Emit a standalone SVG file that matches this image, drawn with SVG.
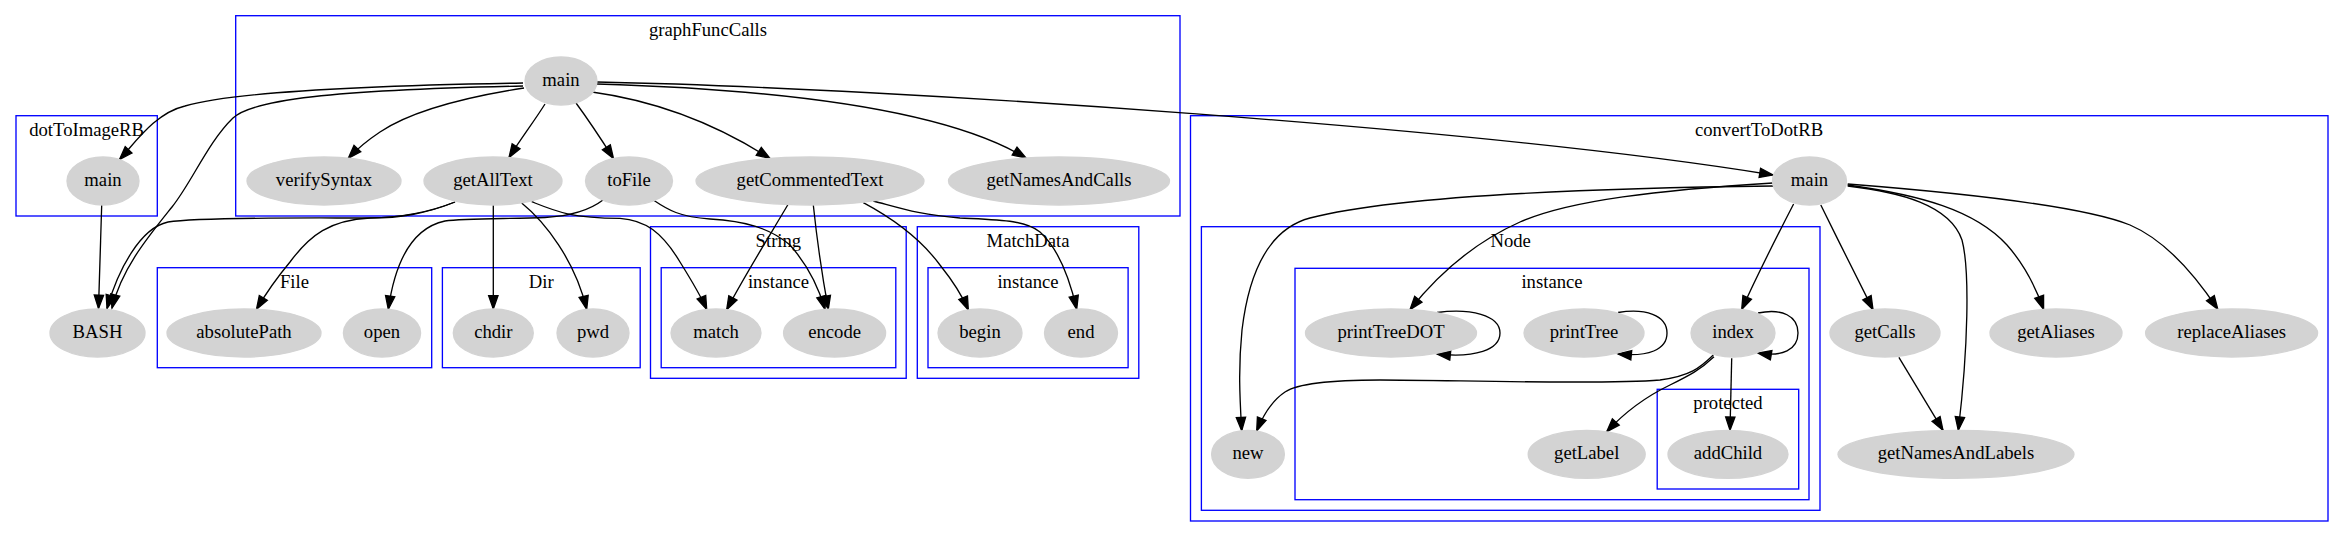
<svg xmlns="http://www.w3.org/2000/svg" width="2344" height="537" viewBox="0 0 2344 537">
<style>
.cl{fill:none;stroke:#0000ff;stroke-width:1.33}
.nd{fill:#d3d3d3;stroke:#d3d3d3;stroke-width:1.33}
text{font-family:"Liberation Serif","Times New Roman",serif;font-size:18.67px;fill:#000;text-anchor:middle}
.ed{fill:none;stroke:#000;stroke-width:1.33;marker-end:url(#ah)}
</style>
<defs>
<marker id="ah" markerUnits="userSpaceOnUse" markerWidth="16" markerHeight="12" viewBox="-1 -1 16 12" refX="13.33" refY="4.67" orient="auto" overflow="visible">
<polygon points="0,0 13.33,4.67 0,9.33" fill="#000" stroke="#000" stroke-width="1.33"/>
</marker>
</defs>
<rect width="2344" height="537" fill="#fff"/>
<g id="clusters">
<g id="cluster_graphFuncCalls"><rect class="cl" x="235.7" y="15.7" width="944.3" height="200.3"/><text x="708" y="36">graphFuncCalls</text></g>
<g id="cluster_dotToImageRB"><rect class="cl" x="16" y="115.7" width="141.3" height="100.3"/><text x="86.6" y="136">dotToImageRB</text></g>
<g id="cluster_File"><rect class="cl" x="157.3" y="267.7" width="274.4" height="100"/><text x="294.5" y="287.7">File</text></g>
<g id="cluster_Dir"><rect class="cl" x="442.4" y="267.7" width="197.8" height="100"/><text x="541.3" y="287.7">Dir</text></g>
<g id="cluster_String"><rect class="cl" x="650.5" y="226.7" width="255.7" height="151.6"/><text x="778.4" y="246.7">String</text></g>
<g id="cluster_String_instance"><rect class="cl" x="661.2" y="267.7" width="234.6" height="100"/><text x="778.5" y="287.7">instance</text></g>
<g id="cluster_MatchData"><rect class="cl" x="917.3" y="226.7" width="221.5" height="151.6"/><text x="1028" y="246.7">MatchData</text></g>
<g id="cluster_MatchData_instance"><rect class="cl" x="928" y="267.7" width="200.1" height="100"/><text x="1028" y="287.7">instance</text></g>
<g id="cluster_convertToDotRB"><rect class="cl" x="1190.5" y="115.7" width="1137.5" height="405.3"/><text x="1759" y="135.7">convertToDotRB</text></g>
<g id="cluster_Node"><rect class="cl" x="1201.4" y="226.7" width="618.6" height="283.6"/><text x="1510.7" y="246.7">Node</text></g>
<g id="cluster_Node_instance"><rect class="cl" x="1295" y="268.3" width="514" height="231.4"/><text x="1552" y="288.3">instance</text></g>
<g id="cluster_protected"><rect class="cl" x="1657.2" y="389.3" width="141.5" height="99.7"/><text x="1728" y="409.3">protected</text></g>
</g>
<g id="edges">
<path class="ed" d="M523,83 C400,85 240,90 185,106 C155,113 135,143 119.5,159.5"/>
<path class="ed" d="M523,86 C330,90 252,100 233,118 C208,142 192,182 172,207 C148,237 122,268 112,308"/>
<path class="ed" d="M524,88 C460,98 410,112 380,132 C368,140 357,149 348.3,158.3"/>
<path class="ed" d="M545,104 C535,120 520,140 509,157.5"/>
<path class="ed" d="M576,103 C590,122 603,142 613.5,158.5"/>
<path class="ed" d="M592,92 C650,100 710,120 770,158.5"/>
<path class="ed" d="M597,84 C800,90 950,112 1026,158"/>
<path class="ed" d="M597,82 C900,88 1500,130 1773,175"/>
<path class="ed" d="M101.7,205 L98.5,308.5"/>
<path class="ed" d="M455,202 C425,214 395,218 365,218 C300,218 200,217 168,222 C140,228 118,270 107,308.5"/>
<path class="ed" d="M455,202 C425,214 400,218 370,218 C330,220 310,235 290,262 C275,280 265,295 256.5,309.3"/>
<path class="ed" d="M493.3,205 L493.3,309"/>
<path class="ed" d="M521.7,203 C545,222 575,260 586.7,309.4"/>
<path class="ed" d="M531.7,201.7 C555,211 570,218 620,218.3 C645,220 662,232 680,262 C690,278 700,294 706.7,309.5"/>
<path class="ed" d="M603,200 C590,210 570,216 545,217.5 C510,219 465,218 445,221 C412,228 395,262 388.3,309.3"/>
<path class="ed" d="M653.3,200 C668,210 680,217 710,219 C745,221 770,228 790,245 C805,262 818,285 825,309.4"/>
<path class="ed" d="M788,204.5 C770,235 745,275 726.7,309.7"/>
<path class="ed" d="M813.3,205 C817,240 822,275 828.3,309.2"/>
<path class="ed" d="M863.3,202.7 C890,217 920,238 940,265 C952,280 962,295 968.3,310"/>
<path class="ed" d="M873.3,201 C900,208 920,215 960,218 C1000,220 1025,220 1040,232 C1060,250 1070,280 1076.7,309.2"/>
<path class="ed" d="M1773,186 C1600,188 1400,195 1310,218 C1265,230 1248,280 1242,330 C1238,370 1240,400 1241.7,430.7"/>
<path class="ed" d="M1773,183 C1660,190 1570,200 1520,222 C1475,242 1440,272 1410,309.6"/>
<path class="ed" d="M1793.6,204 C1775,240 1755,280 1741.7,309.5"/>
<path class="ed" d="M1820.8,205 C1838,240 1858,280 1873,309.6"/>
<path class="ed" d="M1847.7,186 C1900,192 1950,205 1962,240 C1970,270 1968,350 1958.3,430.3"/>
<path class="ed" d="M1847.7,185 C1920,195 1975,210 2007,245 C2022,262 2035,285 2043.6,309.4"/>
<path class="ed" d="M1847.7,184 C1950,192 2080,205 2130,225 C2165,240 2195,275 2217.8,309.3"/>
<path class="ed" d="M1437,312.5 C1470,308 1500,315 1500,333 C1500,350 1475,358 1437,354"/>
<path class="ed" d="M1618,312.5 C1645,308 1667,315 1667,333 C1667,350 1648,357 1618,354"/>
<path class="ed" d="M1758,313 C1782,308 1798,316 1798,333 C1798,350 1782,357 1758,353"/>
<path class="ed" d="M1713.3,355 C1700,368 1690,376 1660,380 C1600,385 1450,380 1380,380 C1340,380 1300,382 1285,392 C1270,402 1262,418 1256.7,431"/>
<path class="ed" d="M1714,356.7 C1700,370 1690,375 1670,385 C1645,397 1625,412 1606.7,431.7"/>
<path class="ed" d="M1731.7,358.3 L1730,430.3"/>
<path class="ed" d="M1898.9,357.3 L1943,430.4"/>
</g>
<g id="gfc_main"><ellipse class="nd" cx="561" cy="81" rx="36" ry="24"/><text x="561" y="86">main</text></g>
<g id="dti_main"><ellipse class="nd" cx="103" cy="181" rx="36" ry="24"/><text x="103" y="186">main</text></g>
<g id="verifySyntax"><ellipse class="nd" cx="324" cy="181" rx="77" ry="24"/><text x="324" y="186">verifySyntax</text></g>
<g id="getAllText"><ellipse class="nd" cx="493" cy="181" rx="69" ry="24"/><text x="493" y="186">getAllText</text></g>
<g id="toFile"><ellipse class="nd" cx="629" cy="181" rx="43.5" ry="24"/><text x="629" y="186">toFile</text></g>
<g id="getCommentedText"><ellipse class="nd" cx="810" cy="181" rx="114" ry="24"/><text x="810" y="186">getCommentedText</text></g>
<g id="getNamesAndCalls"><ellipse class="nd" cx="1059" cy="181" rx="110.5" ry="24"/><text x="1059" y="186">getNamesAndCalls</text></g>
<g id="ctd_main"><ellipse class="nd" cx="1809.5" cy="181" rx="37" ry="24"/><text x="1809.5" y="186">main</text></g>
<g id="BASH"><ellipse class="nd" cx="97.5" cy="333" rx="47.5" ry="24"/><text x="97.5" y="338">BASH</text></g>
<g id="absolutePath"><ellipse class="nd" cx="244" cy="333" rx="77" ry="24"/><text x="244" y="338">absolutePath</text></g>
<g id="open"><ellipse class="nd" cx="382" cy="333" rx="38.6" ry="24"/><text x="382" y="338">open</text></g>
<g id="chdir"><ellipse class="nd" cx="493.3" cy="333" rx="40" ry="24"/><text x="493.3" y="338">chdir</text></g>
<g id="pwd"><ellipse class="nd" cx="593" cy="333" rx="36" ry="24"/><text x="593" y="338">pwd</text></g>
<g id="match"><ellipse class="nd" cx="716" cy="333" rx="45" ry="24"/><text x="716" y="338">match</text></g>
<g id="encode"><ellipse class="nd" cx="834.6" cy="333" rx="51" ry="24"/><text x="834.6" y="338">encode</text></g>
<g id="begin"><ellipse class="nd" cx="980" cy="333" rx="42" ry="24"/><text x="980" y="338">begin</text></g>
<g id="end"><ellipse class="nd" cx="1081" cy="333" rx="36.5" ry="24"/><text x="1081" y="338">end</text></g>
<g id="printTreeDOT"><ellipse class="nd" cx="1391" cy="333" rx="85.5" ry="24"/><text x="1391" y="338">printTreeDOT</text></g>
<g id="printTree"><ellipse class="nd" cx="1584" cy="333" rx="60" ry="24"/><text x="1584" y="338">printTree</text></g>
<g id="index"><ellipse class="nd" cx="1733" cy="333" rx="42" ry="24"/><text x="1733" y="338">index</text></g>
<g id="getCalls"><ellipse class="nd" cx="1885" cy="333" rx="55" ry="24"/><text x="1885" y="338">getCalls</text></g>
<g id="getAliases"><ellipse class="nd" cx="2056" cy="333" rx="66" ry="24"/><text x="2056" y="338">getAliases</text></g>
<g id="replaceAliases"><ellipse class="nd" cx="2231.6" cy="333" rx="86" ry="24"/><text x="2231.6" y="338">replaceAliases</text></g>
<g id="new"><ellipse class="nd" cx="1248" cy="454.3" rx="36.4" ry="24"/><text x="1248" y="459.3">new</text></g>
<g id="getLabel"><ellipse class="nd" cx="1586.7" cy="454.3" rx="58.5" ry="24"/><text x="1586.7" y="459.3">getLabel</text></g>
<g id="addChild"><ellipse class="nd" cx="1728" cy="454.3" rx="60" ry="24"/><text x="1728" y="459.3">addChild</text></g>
<g id="getNamesAndLabels"><ellipse class="nd" cx="1956" cy="454.3" rx="118" ry="24"/><text x="1956" y="459.3">getNamesAndLabels</text></g>
</svg>
